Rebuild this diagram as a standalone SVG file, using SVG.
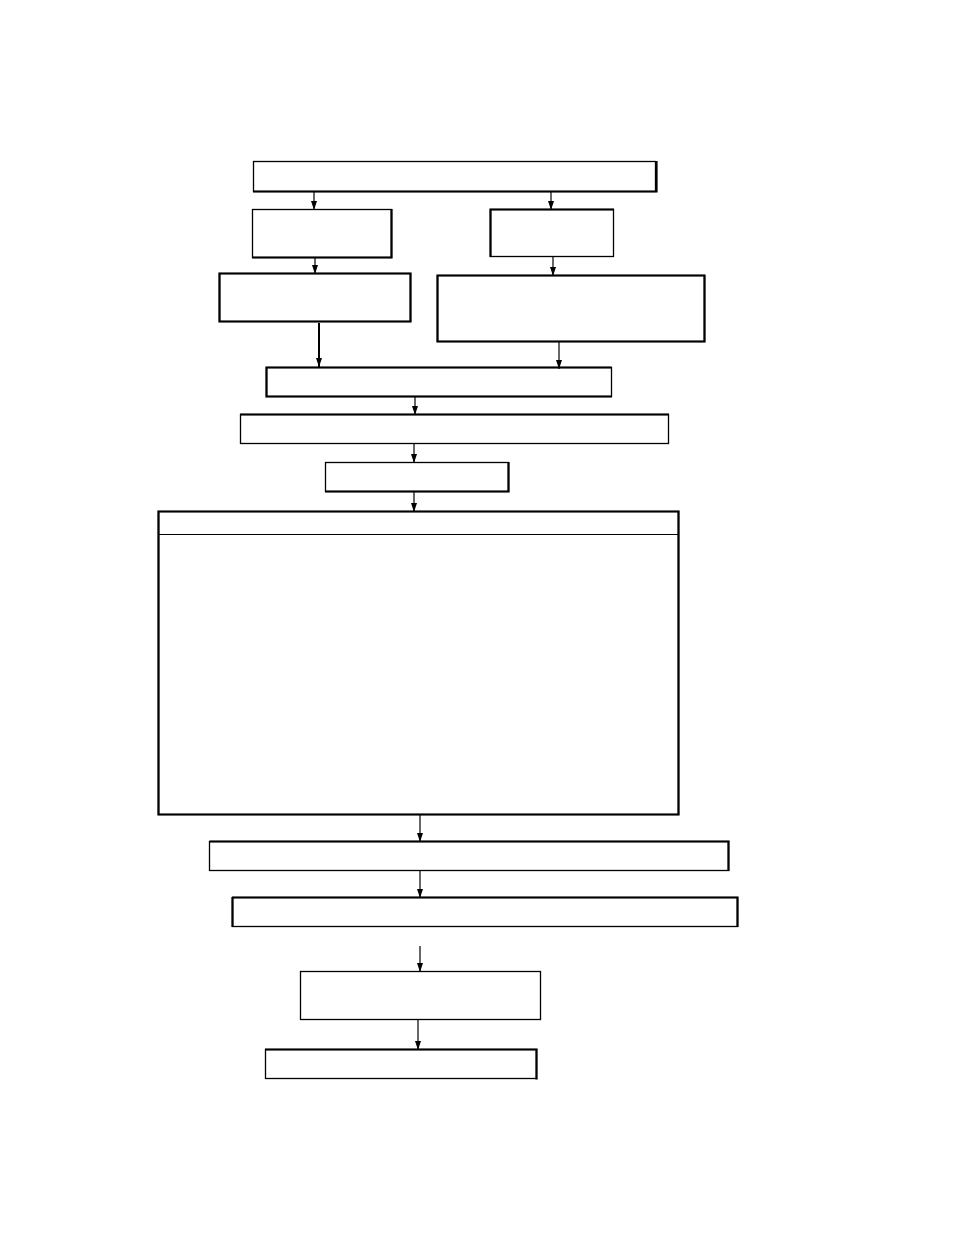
<svg xmlns="http://www.w3.org/2000/svg" width="954" height="1235" viewBox="0 0 954 1235">
<style>
.b{fill:#fff;stroke:#000;stroke-width:1.3}
.t{fill:none;stroke:#000;stroke-width:2.2}
.c{fill:none;stroke:#000;stroke-width:1.2;marker-end:url(#a)}
.c2{fill:none;stroke:#000;stroke-width:2;marker-end:url(#a)}
</style>
<defs>
<marker id="a" markerWidth="9" markerHeight="6" refX="9" refY="3" orient="auto" markerUnits="userSpaceOnUse" viewBox="0 0 9 6">
<path d="M0,0 L9,3 L0,6 Z" fill="#000"/>
</marker>
</defs>
<rect width="954" height="1235" fill="#fff"/>
<g id="n1"><rect class="b" x="253.5" y="161.5" width="402" height="30"/><path class="t" d="M253,191.5H656.5V161"/></g>
<g id="n2"><rect class="b" x="252.5" y="209.5" width="139" height="48"/><path class="t" d="M252,257.5H391.5V209"/></g>
<g id="n3"><rect class="b" x="490.5" y="209.5" width="123" height="47"/><path class="t" d="M490.5,257V209.5H614"/></g>
<g id="n4"><rect class="b" x="219.5" y="273.5" width="191" height="48"/><path class="t" d="M219.5,273.5H410.5V321.5H219.5Z"/></g>
<g id="n5"><rect class="b" x="437.5" y="275.5" width="267" height="66"/><path class="t" d="M437.5,275.5H704.5V341.5H437.5Z"/></g>
<g id="n6"><rect class="b" x="266.5" y="367.5" width="345" height="29"/><path class="t" d="M611.5,367.5H266.5V396.5H612"/></g>
<g id="n7"><rect class="b" x="240.5" y="414.5" width="428" height="29"/><path class="t" d="M240,414.5H669"/></g>
<g id="n8"><rect class="b" x="325.5" y="462.5" width="183" height="29"/><path class="t" d="M325,491.5H508.5V462"/></g>
<g id="n9"><rect class="b" x="158.5" y="511.5" width="520" height="303"/><path class="t" d="M158.5,511.5H678.5V814.5H158.5Z"/><line x1="159" y1="534.5" x2="678" y2="534.5" stroke="#000" stroke-width="1.2"/></g>
<g id="n10"><rect class="b" x="209.5" y="841.5" width="519" height="29"/><path class="t" d="M209.5,841.5H728.5V871"/></g>
<g id="n11"><rect class="b" x="232.5" y="897.5" width="505" height="29"/><path class="t" d="M232,897.5H737.5V927M232.5,897V927"/></g>
<g id="n12"><rect class="b" x="300.5" y="971.5" width="240" height="48"/></g>
<g id="n13"><rect class="b" x="265.5" y="1049.5" width="271" height="29"/><path class="t" d="M265,1049.5H536.5V1079.5"/></g>
<g id="connectors">
<path class="c" d="M314,192V210"/>
<path class="c" d="M551,192V210"/>
<path class="c" d="M315,258V274"/>
<path class="c" d="M553,257V276"/>
<path class="c2" d="M319,323V367"/>
<path class="c" d="M559,342V369"/>
<path class="c" d="M415,397V415"/>
<path class="c" d="M414,444V463"/>
<path class="c" d="M414,492V512"/>
<path class="c" d="M420,815V842"/>
<path class="c" d="M420,871V898"/>
<path class="c" d="M420,946V972"/>
<path class="c" d="M418,1020V1050"/>
</g>
</svg>
